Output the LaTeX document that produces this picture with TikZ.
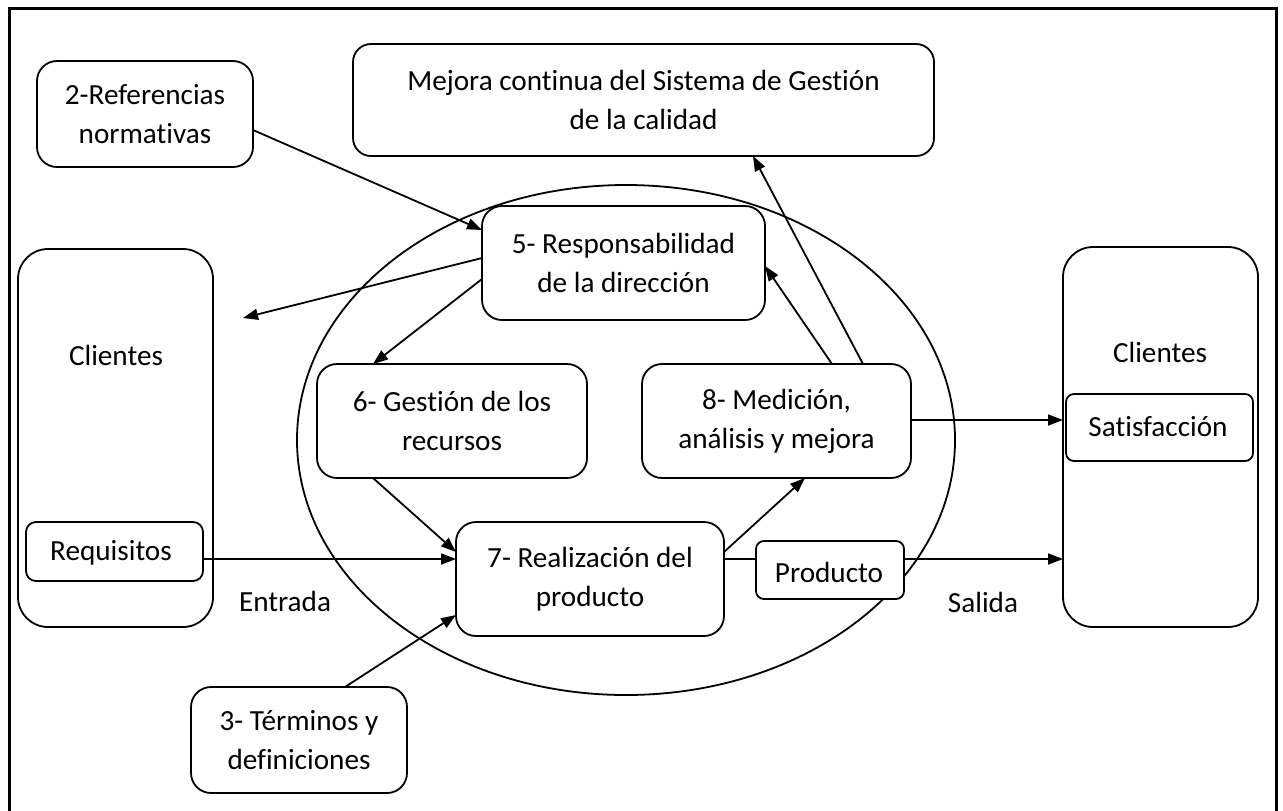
\documentclass[tikz,border=0pt]{standalone}
\usepackage{fontspec}
\setmainfont{Carlito}[Ligatures=NoCommon]
\usetikzlibrary{arrows.meta,calc}
\begin{document}
\begin{tikzpicture}[x=0.5pt,y=-0.5pt,
  every node/.style={font=\fontsize{14.6}{19.5}\selectfont, inner sep=0pt, outer sep=0pt},
  box/.style={draw, line width=0.9pt, fill=white, rounded corners=10pt, align=center},
  txt/.style={align=center},
  arr/.style={line width=0.9pt, -{Triangle[length=7.5pt,width=5.5pt]}},
  ln/.style={line width=0.9pt}
]
\useasboundingbox (0,0) rectangle (1283,810);
\draw[line width=1.5pt] (9,830) -- (9,8) -- (1276,8) -- (1276,830);
% ellipse
\draw[line width=0.9pt] (626,440) ellipse [x radius=164.5pt, y radius=127.5pt];
% side boxes
\node[box, rounded corners=15pt, minimum width=97.5pt, minimum height=189pt] (cliL) at (115.5,438) {};
\node[txt] (cliLt) at (116,355) {Clientes};
\node[box, rounded corners=5pt, minimum width=88.5pt, minimum height=29.5pt] (req) at (114.5,551.5) {};
\node[txt] (reqt) at (111,553) {Requisitos};
\node[box, rounded corners=15pt, minimum width=97.5pt, minimum height=190pt] (cliR) at (1160.5,437) {};
\node[txt] (cliRt) at (1160,352) {Clientes};
\node[box, rounded corners=4pt, minimum width=93.5pt, minimum height=33.5pt] (sat) at (1159.5,427.5) {};
\node[txt] (satt) at (1158,427) {Satisfacción};
% top boxes
\node[box, minimum width=108pt, minimum height=53pt] (ref2) at (145,114) {2-Referencias\\normativas};
\node[box, rounded corners=9pt, minimum width=290.5pt, minimum height=56pt] (mejora) at (643.5,100) {Mejora continua del Sistema de Gestión\\de la calidad};
% inner boxes
\node[box, minimum width=141.5pt, minimum height=57pt] (b5) at (623.5,263) {5- Responsabilidad\\de la dirección};
\node[box, minimum width=135pt, minimum height=57pt] (b6) at (452,421) {6- Gestión de los\\recursos};
\node[box, minimum width=134.5pt, minimum height=57pt] (b8) at (776.5,421) {8- Medición,\\análisis y mejora};
\node[box, minimum width=134pt, minimum height=57pt] (b7) at (590,579) {7- Realización del\\producto};
\node[box, rounded corners=4pt, minimum width=74pt, minimum height=29pt] (prod) at (830,570) {};
\node[txt] (prodt) at (829,572) {Producto};
\node[box, minimum width=108pt, minimum height=53pt] (b3) at (299,740) {3- Términos y\\definiciones};
% labels
\node[txt] (entrada) at (285,601) {Entrada};
\node[txt] (salida) at (983,602) {Salida};
\coordinate (cL) at (243,318);
% connectors
\draw[arr] ($(ref2.east)+(0,16)$) -- ($(b5.west)+(0,-33)$);
\draw[arr] ($(b5.west)+(0,-5)$) -- (cL);
\draw[arr] ($(b5.west)+(0,16)$) -- ($(b6.north)+(-79,0)$);
\draw[arr] ($(b8.north)+(55.5,0)$) -- ($(b5.east)+(0,3)$);
\draw[arr] ($(b8.north)+(86.5,0)$) -- ($(mejora.south)+(109.5,0)$);
\draw[arr] ($(b8.east)+(0,-1)$) -- ($(cliR.west)+(0,-17)$);
\draw[ln] ($(b7.east)+(0,-20)$) -- ($(prod.west)+(0,-11)$);
\draw[arr] ($(prod.east)+(0,-11)$) -- ($(cliR.west)+(0,122)$);
\draw[arr] ($(b7.east)+(0,-27)$) -- ($(b8.south)+(28.5,0)$);
\draw[arr] ($(req.east)+(0,7.5)$) -- ($(b7.west)+(0,-20)$);
\draw[arr] ($(b6.south)+(-79,0)$) -- ($(b7.west)+(0,-27)$);
\draw[arr] ($(b3.north)+(46,0)$) -- ($(b7.west)+(0,36)$);
\end{tikzpicture}
\end{document}
